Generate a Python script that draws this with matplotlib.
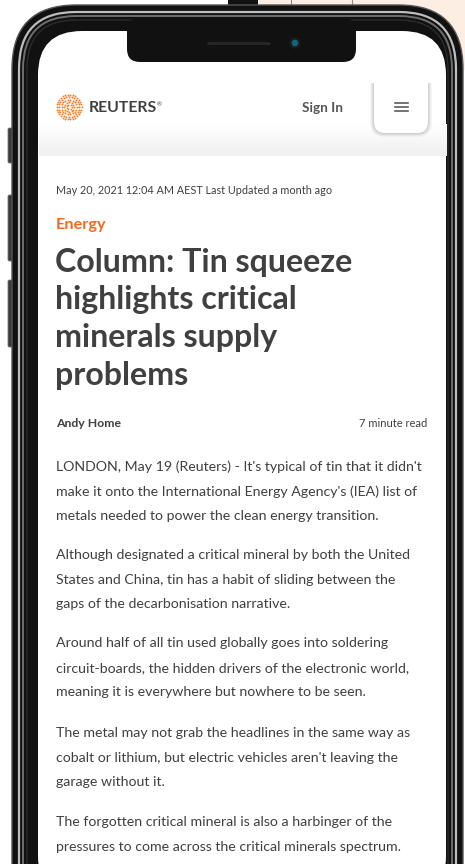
import numpy as np
import matplotlib
matplotlib.use("Agg")
import matplotlib.pyplot as plt
from matplotlib.patches import FancyBboxPatch, Rectangle, Circle
from matplotlib.colors import LinearSegmentedColormap

# page content
date_line = "May 20, 2021 12:04 AM AEST Last Updated a month ago"
category = "Energy"
title_lines = ["Column: Tin squeeze", "highlights critical",
               "minerals supply", "problems"]
author = "Andy Home"
read_time = "7 minute read"
para1 = ["LONDON, May 19 (Reuters) - It's typical of tin that it didn't",
         "make it onto the International Energy Agency's (IEA) list of",
         "metals needed to power the clean energy transition."]
para2 = ["Although designated a critical mineral by both the United",
         "States and China, tin has a habit of sliding between the",
         "gaps of the decarbonisation narrative."]
para3 = ["Around half of all tin used globally goes into soldering",
         "circuit-boards, the hidden drivers of the electronic world,",
         "meaning it is everywhere but nowhere to be seen."]
para4 = ["The metal may not grab the headlines in the same way as",
         "cobalt or lithium, but electric vehicles aren't leaving the",
         "garage without it."]
para5 = ["The forgotten critical mineral is also a harbinger of the",
         "pressures to come across the critical minerals spectrum."]
paragraphs = [para1, para2, para3, para4, para5]
para_top = [471, 559, 647, 737, 826]

FONT = "Lato"
TXT = "#404040"
ORANGE = "#f26a1f"
W, H = 465, 864


def px(p):
    return p * 72 / 100.0


fig = plt.figure(figsize=(W / 100, H / 100), dpi=100)
ax = fig.add_axes([0, 0, 1, 1])


def rbox(x0, y0, x1, y1, r, **kw):
    p = FancyBboxPatch((x0 + r, y0 + r), x1 - x0 - 2 * r, y1 - y0 - 2 * r,
                       boxstyle="round,pad=%g" % r, **kw)
    ax.add_patch(p)
    return p


# background bits above the phone
ax.add_patch(Rectangle((258, 0), 210, 70, color="#fdeee4", lw=0, zorder=0))
ax.add_patch(Rectangle((228, 0), 30, 14, color="#111111", lw=0, zorder=0))
ax.add_patch(Rectangle((291, -2), 61, 8, fill=False, ec="#8a8a8a", lw=0.8, zorder=0))

# side buttons
for y0, y1 in [(128, 163), (195, 261), (280, 347)]:
    rbox(8, y0, 13, y1, 1.5, fc="#3a3a3a", ec="#777777", lw=0.6, zorder=1)

# phone body
rbox(12, 5, 463, 960, 64, fc="#111111", ec="#555555", lw=1.0, zorder=2)
rbox(19, 12, 456, 960, 57, fc="none", ec="#bdbdbd", lw=1.6, zorder=3)
rbox(23, 16, 452, 960, 53, fc="none", ec="#6e6e6e", lw=1.4, zorder=3)
rbox(27, 20, 448, 960, 49, fc="none", ec="#2c2c2c", lw=1.0, zorder=3)

# screen
rbox(38, 31, 446, 900, 44, fc="white", ec="none", zorder=4)

# notch, speaker, camera
rbox(127, 18, 356, 62, 13, fc="#111111", ec="none", zorder=5)
ax.plot([208, 269], [43, 43], color="#262626", lw=px(3), solid_capstyle="round", zorder=6)
ax.add_patch(Circle((295, 43), 5, color="#1b1b1b", zorder=6))
ax.add_patch(Circle((295, 43), 2.6, color="#14627e", zorder=7))

# header shadow band
grad = np.linspace(0, 1, 40).reshape(-1, 1)
ax.imshow(grad, extent=(39, 446, 156, 124),
          cmap=LinearSegmentedColormap.from_list("g", ["#ffffff", "#f0f0f0"]),
          aspect="auto", zorder=5, interpolation="bilinear")

# menu button, cut off at the top of the header, soft shadow
clip = Rectangle((355, 83), 90, 70, transform=ax.transData)
for k, a in [(4, 0.03), (3, 0.04), (2, 0.05), (1, 0.06)]:
    sh = rbox(374 - k, 60, 428 + k, 133 + k, 11 + k, fc="black", alpha=a,
              ec="none", zorder=6)
    sh.set_clip_path(clip)
mb = rbox(374, 60, 428, 133, 11, fc="white", ec="none", zorder=7)
mb.set_clip_path(clip)
for yy in [103, 107, 111]:
    ax.plot([395, 408], [yy, yy], color="#555555", lw=px(1.6), zorder=8)

# logo: dotted rings
for r, n, s in [(2.5, 7, 1.6), (5, 12, 1.9), (7.5, 18, 2.0), (10, 24, 2.0), (12.5, 30, 1.8)]:
    a = np.linspace(0, 2 * np.pi, n, endpoint=False)
    ax.scatter(69 + r * np.cos(a), 107 + r * np.sin(a), s=s, color="#f47b20", lw=0, zorder=8)

ax.text(89, 112, "REUTERS", fontsize=px(15.8), fontweight="bold", color=TXT,
        family=FONT, va="baseline", zorder=8)
ax.text(157, 106, "®", fontsize=px(6), color=TXT, family=FONT, va="baseline", zorder=8)
ax.text(322, 112, "Sign In", fontsize=px(13.5), fontweight="bold", color="#555555",
        family=FONT, va="baseline", ha="center", zorder=8)

# article
ax.text(56, 194, date_line, fontsize=px(10.9), color=TXT, family=FONT, va="baseline", zorder=8)
ax.text(56, 229, category, fontsize=px(16.3), fontweight="bold", color=ORANGE,
        family=FONT, va="baseline", zorder=8)
for i, line in enumerate(title_lines):
    ax.text(55, 272 + i * 37.5, line, fontsize=px(32.2), fontweight="bold", color=TXT,
            family=FONT, va="baseline", zorder=8)
ax.text(56, 427, author, fontsize=px(12.3), fontweight="bold", color=TXT,
        family=FONT, va="baseline", zorder=8)
ax.text(427, 427, read_time, fontsize=px(11.1), color=TXT, family=FONT,
        va="baseline", ha="right", zorder=8)
for top, lines in zip(para_top, paragraphs):
    for j, line in enumerate(lines):
        ax.text(56, top + j * 24.7, line, fontsize=px(14.1), color=TXT,
                family=FONT, va="baseline", zorder=8)

ax.set_xlim(0, W)
ax.set_ylim(H, 0)
ax.axis("off")
fig.savefig("out.png", dpi=100)
